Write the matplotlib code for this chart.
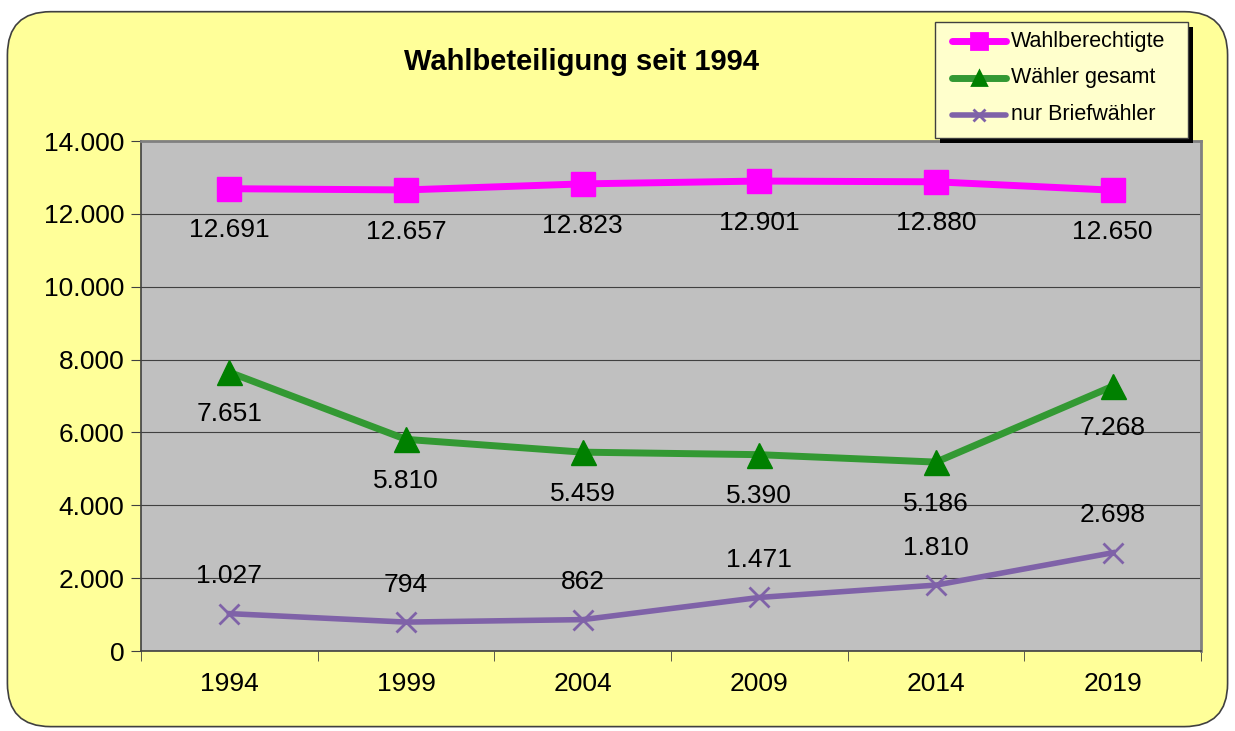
import numpy as np
import matplotlib.pyplot as plt
from matplotlib.patches import FancyBboxPatch, Rectangle

plt.rcParams['font.family'] = ['Liberation Sans', 'DejaVu Sans']

jahre = ["1994", "1999", "2004", "2009", "2014", "2019"]
wahlberechtigte = [12691, 12657, 12823, 12901, 12880, 12650]
waehler = [7651, 5810, 5459, 5390, 5186, 7268]
brief = [1027, 794, 862, 1471, 1810, 2698]


def fmt(v):
    return "{:,}".format(v).replace(",", ".")


fig = plt.figure(figsize=(12.35, 7.31), dpi=100)
fig.patch.set_facecolor("white")

# gelber Hintergrund mit runden Ecken
bg = FancyBboxPatch((0.006, 0.006), 0.988, 0.978, boxstyle="round,pad=0,rounding_size=0.035",
                    transform=fig.transFigure, facecolor="#FFFF99", edgecolor="#404040",
                    linewidth=1.2, mutation_aspect=1235 / 731, zorder=-5)
fig.patches.append(bg)

ax = fig.add_axes([0.1142, 0.1094, 0.8583, 0.6977])
ax.set_facecolor("#C0C0C0")
x = np.arange(len(jahre))

ax.plot(x, wahlberechtigte, color="#FF00FF", lw=5, marker="s", ms=17, zorder=3)
ax.plot(x, waehler, color="#339933", lw=5, marker="^", ms=18, mfc="#008000", mec="#008000", zorder=3)
ax.plot(x, brief, color="#7F62A8", lw=4, marker="x", ms=14, mew=2, zorder=3)

for i in x:
    ax.annotate(fmt(wahlberechtigte[i]), (i, wahlberechtigte[i]), xytext=(0, -30),
                textcoords="offset points", ha="center", va="center", fontsize=19)
    ax.annotate(fmt(waehler[i]), (i, waehler[i]), xytext=(0, -30),
                textcoords="offset points", ha="center", va="center", fontsize=19)
    ax.annotate(fmt(brief[i]), (i, brief[i]), xytext=(0, 27),
                textcoords="offset points", ha="center", va="center", fontsize=19)

ax.set_xlim(-0.5, len(jahre) - 0.5)
ax.set_ylim(0, 14000)
ax.set_yticks(np.arange(0, 14001, 2000))
ax.set_yticklabels([fmt(v) for v in range(0, 14001, 2000)], fontsize=19)
ax.set_xticks(x)
ax.set_xticklabels(jahre, fontsize=19)
ax.set_xticks(np.arange(-0.5, len(jahre)), minor=True)
ax.tick_params(axis="x", which="major", length=0, pad=15)
ax.tick_params(axis="x", which="minor", length=7, direction="out", color="#404040")
ax.tick_params(axis="y", length=7, direction="out", color="#404040", pad=5)
ax.grid(axis="y", color="#404040", lw=0.8)
ax.set_axisbelow(True)
for s in ["top", "right"]:
    ax.spines[s].set_color("#808080")
    ax.spines[s].set_linewidth(2)
for s in ["left", "bottom"]:
    ax.spines[s].set_color("#404040")
    ax.spines[s].set_linewidth(1.2)

fig.text(0.471, 0.915, "Wahlbeteiligung seit 1994", ha="center", va="center",
         fontsize=21, fontweight="bold")

# Legende mit Schatten
lx, ly, lw, lh = 935 / 1235, 1 - 138 / 731, 253 / 1235, 116 / 731
fig.patches.append(Rectangle((lx + 5 / 1235, ly - 5 / 731), lw, lh, transform=fig.transFigure,
                             facecolor="black", edgecolor="none", zorder=4))
fig.patches.append(Rectangle((lx, ly), lw, lh, transform=fig.transFigure,
                             facecolor="#FFFFCC", edgecolor="#404040", lw=1, zorder=5))
eintraege = [("Wahlberechtigte", "#FF00FF", "s", "#FF00FF", 5, 11),
             ("Wähler gesamt", "#339933", "^", "#008000", 5, 10),
             ("nur Briefwähler", "#7F62A8", "x", "#7F62A8", 4, 8)]
for k, (name, c, m, mc, w, ms) in enumerate(eintraege):
    yy = 1 - (41 + k * 37) / 731
    fig.add_artist(plt.Line2D([952 / 1235, 1006 / 1235], [yy, yy], transform=fig.transFigure,
                              color=c, lw=w, solid_capstyle="round", zorder=6))
    fig.add_artist(plt.Line2D([979 / 1235], [yy], transform=fig.transFigure, marker=m,
                              ms=ms, color=mc, mew=2, lw=0, zorder=7))
    fig.text(1011 / 1235, yy, name, ha="left", va="center", fontsize=15.5, zorder=7)

fig.savefig("out.png", dpi=100, facecolor=fig.get_facecolor())
